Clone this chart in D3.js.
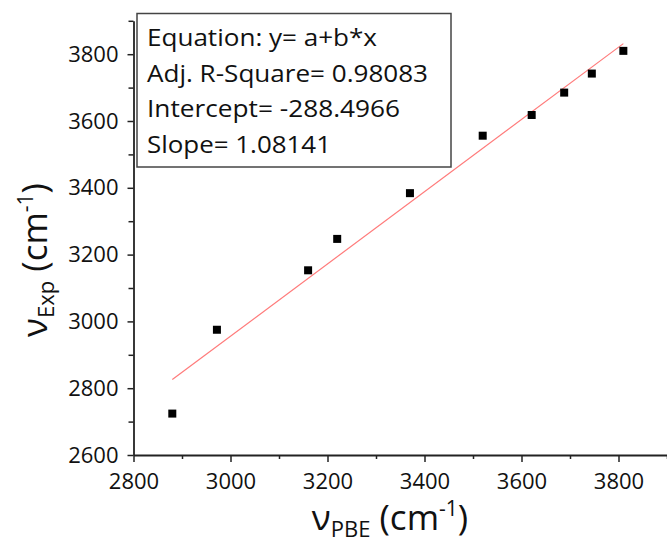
<!DOCTYPE html>
<html>
<head>
<meta charset="utf-8">
<script src="https://cdn.jsdelivr.net/npm/d3@7"></script>
<style>
  html, body { margin: 0; padding: 0; background: #fff; }
  svg { display: block; font-family: "Open Sans", "Noto Sans", sans-serif; }
</style>
</head>
<body>
<svg id="chart" width="667" height="546"></svg>
<script>
// Computed (PBE) vs. experimental vibrational frequencies, cm^-1
const pbeFreq = [2880, 2972, 3160, 3220, 3370, 3520, 3621, 3688, 3745, 3810];
const expFreq = [2724, 2975, 3153, 3247, 3384, 3556, 3618, 3685, 3742, 3810];

// Linear fit results shown in the statistics box
const fitIntercept = -288.4966;
const fitSlope = 1.08141;
const fitAdjR2 = 0.98083;
const fitLines = [
  "Equation: y= a+b*x",
  "Adj. R-Square= " + fitAdjR2.toFixed(5),
  "Intercept= " + fitIntercept.toFixed(4),
  "Slope= " + fitSlope.toFixed(5)
];

const xTicks = [2800, 3000, 3200, 3400, 3600, 3800];
const xMinorTicks = [2900, 3100, 3300, 3500, 3700, 3900];
const yTicks = [2600, 2800, 3000, 3200, 3400, 3600, 3800];
const yMinorTicks = [2700, 2900, 3100, 3300, 3500, 3700, 3900];

const svg = d3.select("#chart");

const x = d3.scaleLinear().domain([2800, 3900]).range([133.5, 667]);
const y = d3.scaleLinear().domain([2600, 3900]).range([455, 20.8]);

const tickFont = 22;

// Minor ticks
svg.append("g")
  .attr("transform", `translate(0,${y(2600)})`)
  .call(d3.axisBottom(x).tickValues(xMinorTicks).tickSize(4).tickFormat(""))
  .call(g => g.select(".domain").remove())
  .call(g => g.selectAll("line").attr("stroke", "#222").attr("stroke-width", 1.5));
svg.append("g")
  .attr("transform", `translate(${x(2800)},0)`)
  .call(d3.axisLeft(y).tickValues(yMinorTicks).tickSize(5).tickFormat(""))
  .call(g => g.select(".domain").remove())
  .call(g => g.selectAll("line").attr("stroke", "#222").attr("stroke-width", 1.5));

// Major axes
const xAxis = svg.append("g")
  .attr("transform", `translate(0,${y(2600)})`)
  .call(d3.axisBottom(x).tickValues(xTicks).tickSize(7).tickPadding(11).tickSizeOuter(0).tickFormat(d3.format("d")));
const yAxis = svg.append("g")
  .attr("transform", `translate(${x(2800)},0)`)
  .call(d3.axisLeft(y).tickValues(yTicks).tickSize(6).tickPadding(9).tickSizeOuter(0).tickFormat(d3.format("d")));

[xAxis, yAxis].forEach(g => {
  g.select(".domain").attr("stroke", "#222").attr("stroke-width", 1.8);
  g.selectAll(".tick line").attr("stroke", "#222").attr("stroke-width", 1.5);
  g.selectAll(".tick text")
    .attr("fill", "#111")
    .style("font-family", "'Open Sans', sans-serif")
    .style("font-size", tickFont + "px");
});

// Fitted line over the data range
const xExtent = d3.extent(pbeFreq);
svg.append("line")
  .attr("x1", x(xExtent[0])).attr("y1", y(fitIntercept + fitSlope * xExtent[0]))
  .attr("x2", x(xExtent[1])).attr("y2", y(fitIntercept + fitSlope * xExtent[1]))
  .attr("stroke", "#ff7b7b")
  .attr("stroke-width", 1.2);

// Data points (square markers)
const ms = 8;
svg.append("g").selectAll("rect")
  .data(pbeFreq.map((v, i) => [v, expFreq[i]]))
  .join("rect")
  .attr("x", d => x(d[0]) - ms / 2)
  .attr("y", d => y(d[1]) - ms / 2)
  .attr("width", ms)
  .attr("height", ms)
  .attr("fill", "#000");

// Statistics box
svg.append("rect")
  .attr("x", 137).attr("y", 13.5)
  .attr("width", 314).attr("height", 153.5)
  .attr("fill", "#fff")
  .attr("stroke", "#444")
  .attr("stroke-width", 1.5);

const lineWidths = [230, 281, 253, 184];
svg.append("g").selectAll("text")
  .data(fitLines)
  .join("text")
  .attr("x", 147)
  .attr("y", (d, i) => 46 + i * 35.5)
  .attr("textLength", (d, i) => lineWidths[i])
  .attr("lengthAdjust", "spacingAndGlyphs")
  .attr("fill", "#111")
  .style("font-size", "24px")
  .text(d => d);

// Axis titles
function axisTitle(sel, sub) {
  sel.attr("text-anchor", "middle")
    .attr("fill", "#111")
    .style("font-size", "35px");
  sel.append("tspan").text("\u03BD");
  sel.append("tspan").attr("dy", 7).style("font-size", "22px").text(sub);
  sel.append("tspan").attr("dy", -7).text(" (cm");
  sel.append("tspan").attr("dy", -14).style("font-size", "21px").text("-1");
  sel.append("tspan").attr("dy", 14).text(")");
}

axisTitle(svg.append("text").attr("x", 390).attr("y", 530), "PBE");
axisTitle(svg.append("text").attr("transform", "translate(47,260) rotate(-90)"), "Exp");
</script>
</body>
</html>
